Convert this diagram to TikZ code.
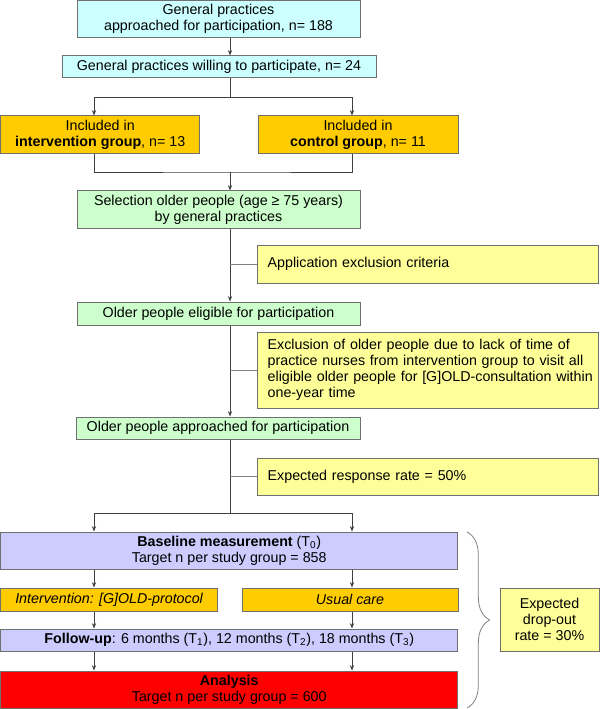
\documentclass[tikz,border=0pt]{standalone}
\usepackage{fontspec}
\setmainfont{Liberation Sans}
\usetikzlibrary{arrows.meta,decorations.pathreplacing}
\definecolor{cyanfill}{HTML}{CCFFFF}
\definecolor{orangefill}{HTML}{FFCC00}
\definecolor{greenfill}{HTML}{CCFFCC}
\definecolor{yellowfill}{HTML}{FFFF99}
\definecolor{lavfill}{HTML}{CCCCFF}
\definecolor{redfill}{HTML}{FF0000}
\definecolor{bordergray}{HTML}{707070}
\definecolor{linegray}{HTML}{404040}
\begin{document}
\begin{tikzpicture}[x=0.75pt,y=-0.75pt,
  box/.style={draw=bordergray, line width=0.75pt, inner sep=0pt, align=center,
    font=\fontsize{10.7}{12.1}\selectfont},
  lbox/.style={box, fill=yellowfill, align=left, inner xsep=7.5pt, text width=#1},
  arr/.style={draw=linegray, line width=0.6pt, -{Stealth[length=4pt,width=3.2pt]}},
  conn/.style={draw=linegray, line width=0.6pt},
  side/.style={draw=gray, line width=0.6pt}]
\useasboundingbox (0,0) rectangle (600,709);
\coordinate (xc) at (230,0);
\coordinate (xl) at (94,0);
\coordinate (xr) at (352,0);
% nodes
\node[box, fill=cyanfill, minimum width=212.25pt, minimum height=27.4pt] (b1) at (218.5,18.75)
  {General practices\\approached for participation, n= 188};
\node[box, fill=cyanfill, minimum width=235.5pt, minimum height=16.5pt] (b2) at (219,67)
  {General practices willing to participate, n= 24};
\node[box, fill=orangefill, minimum width=149.6pt, minimum height=28.5pt] (b3) at (100.25,135)
  {Included in\\\textbf{intervention group}, n= 13};
\node[box, fill=orangefill, minimum width=150pt, minimum height=28.5pt] (b4) at (358,135)
  {Included in\\\textbf{control group}, n= 11};
\node[box, fill=greenfill, minimum width=212.25pt, minimum height=27.75pt] (b5) at (218.5,209.5)
  {Selection older people (age ≥ 75 years)\\by general practices};
\node[lbox=240.5pt, minimum height=28.5pt] (yA) at (428,264)
  {Application exclusion criteria};
\node[box, fill=greenfill, minimum width=212.25pt, minimum height=17.25pt] (b6) at (218.5,313.5)
  {Older people eligible for participation};
\node[lbox=240.5pt, minimum height=57pt] (yB) at (428,370)
  {\mbox{Exclusion of older people due to lack of time of}\\\mbox{practice nurses from intervention group to visit all}\\\mbox{eligible older people for [G]OLD-consultation within}\\\mbox{one-year time}};
\node[box, fill=greenfill, minimum width=213pt, minimum height=16.5pt] (b7) at (218,428)
  {Older people approached for participation};
\node[lbox=240.5pt, minimum height=27.75pt] (yC) at (428,476.5)
  {Expected response rate = 50\%};
\node[box, fill=lavfill, minimum width=343.1pt, minimum height=27.75pt] (base) at (229.25,550.5)
  {\textbf{Baseline measurement} (T\textsubscript{0})\\Target n per study group = 858};
\node[box, fill=orangefill, minimum width=163.1pt, minimum height=17.25pt] (int) at (109.25,599.5)
  {\textit{Intervention: [G]OLD-protocol}};
\node[box, fill=orangefill, minimum width=162pt, minimum height=17.25pt] (usual) at (350,599.5)
  {\textit{Usual care}};
\node[box, fill=lavfill, minimum width=343.1pt, minimum height=16.5pt] (follow) at (229.25,640)
  {\textbf{Follow-up}: 6 months (T\textsubscript{1}), 12 months (T\textsubscript{2}), 18 months (T\textsubscript{3})};
\node[box, fill=redfill, minimum width=343.1pt, minimum height=28.1pt] (ana) at (229.25,689.75)
  {\textbf{Analysis}\\Target n per study group = 600};
\node[box, fill=yellowfill, minimum width=74.25pt, minimum height=47.25pt] (yD) at (549.5,619.5)
  {Expected\\drop-out\\rate = 30\%};
% helper coordinates
\coordinate (split1) at (230,97);
\coordinate (join1) at (230,172);
\coordinate (split2) at (230,513);
% connectors
\draw[arr] (b1.south -| xc) -- (b2.north -| xc);
\draw[conn] (b2.south -| xc) -- (split1);
\draw[arr] (split1) -| (b3.north -| xl);
\draw[arr] (split1) -| (b4.north -| xr);
\draw[conn] (b3.south -| xl) |- (join1) -| (b4.south -| xr);
\draw[arr] (join1) -- (b5.north -| xc);
\draw[arr] (b5.south -| xc) -- (b6.north -| xc);
\draw[side] (yA.west -| xc) -- (yA.west);
\draw[arr] (b6.south -| xc) -- (b7.north -| xc);
\draw[side] (yB.west -| xc) -- (yB.west);
\draw[conn] (b7.south -| xc) -- (split2);
\draw[side] (yC.west -| xc) -- (yC.west);
\draw[arr] (split2) -| (base.north -| xl);
\draw[arr] (split2) -| (base.north -| xr);
\draw[arr] (base.south -| xl) -- (int.north -| xl);
\draw[arr] (base.south -| xr) -- (usual.north -| xr);
\draw[arr] (int.south -| xl) -- (follow.north -| xl);
\draw[arr] (usual.south -| xr) -- (follow.north -| xr);
\draw[arr] (follow.south -| xl) -- (ana.north -| xl);
\draw[arr] (follow.south -| xr) -- (ana.north -| xr);
% brace
\coordinate (bt) at (467,532);
\coordinate (bb) at (467,708);
\draw[draw=gray, line width=0.6pt, decorate, decoration={brace, amplitude=17pt}] (bt) -- (bb);
\end{tikzpicture}
\end{document}
